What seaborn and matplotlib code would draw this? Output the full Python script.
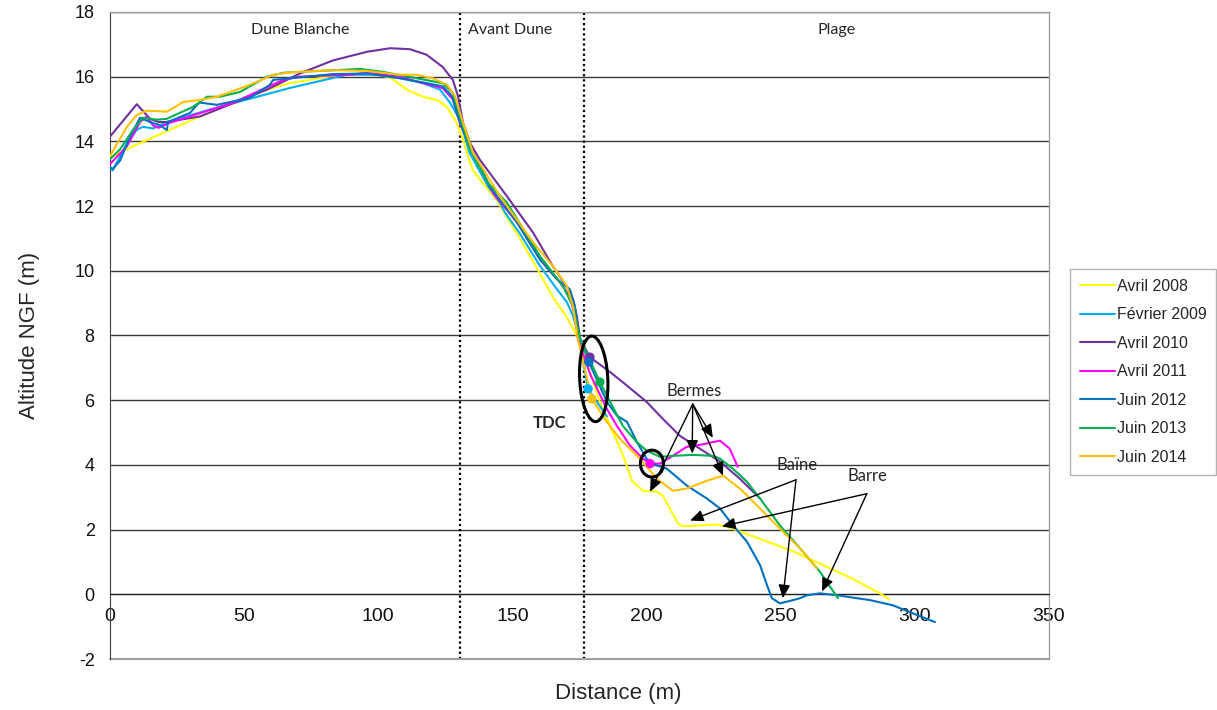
import numpy as np
import pandas as pd
import matplotlib
matplotlib.use("Agg")
import matplotlib.pyplot as plt
from matplotlib.patches import Ellipse
import seaborn as sns

# ---------------- data ----------------
campaigns = ["Avril 2008", "Février 2009", "Avril 2010", "Avril 2011",
             "Juin 2012", "Juin 2013", "Juin 2014"]
colors = ["#FFFF00", "#00B0F0", "#7030A0", "#FF00FF", "#0070C0", "#00B050", "#FFC000"]

avril2008_x = [0, 8.6, 33.5, 58.5, 67, 85.7, 98, 104.4, 110.7, 116.7, 121.8, 125.6, 129.3, 131.6,
               134.2, 135.3, 144, 152.8, 160, 165, 170, 174, 176.3, 182.6, 187.5, 191.2, 194.6,
               198.7, 203.9, 206, 208.7, 211.7, 213.6, 219.9, 226.2, 231, 254.6, 275.8, 287, 290.3]
avril2008_y = [13.5, 13.85, 14.77, 15.6, 15.8, 16.06, 16.1, 15.97, 15.6, 15.38, 15.28, 15.07, 14.57, 14.05,
               13.35, 13.1, 12.2, 11.0, 9.95, 9.2, 8.6, 8.0, 7.5, 5.95, 5.0, 4.3, 3.5,
               3.2, 3.17, 3.05, 2.65, 2.19, 2.1, 2.13, 2.16, 2.06, 1.33, 0.52, 0.03, -0.15]

fevrier2009_x = [0, 1, 6.3, 10, 12.3, 16, 21.2, 40, 67, 88.3, 103, 116.7, 123, 126.7, 130.4, 134,
                 141, 145.4, 147.2, 152.8, 160.3, 166.6, 170.3, 172.6, 174.4, 178.2, 185.2]
fevrier2009_y = [13.2, 13.1, 13.95, 14.36, 14.45, 14.4, 14.6, 15.05, 15.65, 16.06, 16.06, 15.8, 15.6, 15.2, 14.67, 13.65,
                 12.6, 12.1, 11.8, 11.15, 10.15, 9.43, 9.03, 8.6, 8.1, 6.35, 5.5]

avril2010_x = [0, 10, 14.9, 18, 21, 33.5, 58.5, 70.8, 83, 95.8, 104.4, 111.8, 118, 124, 127.8, 129.7,
               131.6, 134.2, 137.9, 148, 157.7, 165, 170.3, 172.6, 174, 175.2, 178.9, 186.4, 192.7,
               200, 206.1, 212.4, 219.9, 227.4, 234.8, 242.3]
avril2010_y = [14.15, 15.15, 14.7, 14.6, 14.6, 14.77, 15.6, 16.1, 16.5, 16.77, 16.88, 16.85, 16.68, 16.3, 15.9, 15.4,
               14.57, 13.95, 13.43, 12.3, 11.18, 10.15, 9.5, 9.12, 8.6, 7.9, 7.33, 6.87, 6.45,
               5.95, 5.42, 4.9, 4.5, 4.1, 3.57, 2.96]

avril2011_x = [0, 6.3, 11.2, 13.7, 16, 18, 22.4, 46, 64.5, 70.8, 89.5, 95.8, 108, 116.7, 124, 127.8,
               130.4, 134.2, 142.8, 151.7, 160.3, 167.7, 171.4, 173.3, 174.4, 179, 185.2, 189, 193.8,
               198.7, 201.3, 205, 209.8, 215, 219.9, 227.4, 231, 234]
avril2011_y = [13.3, 13.85, 14.6, 14.77, 14.5, 14.42, 14.58, 15.2, 15.9, 16.0, 16.06, 16.12, 16.0, 15.8, 15.65, 15.3,
               14.57, 13.85, 12.4, 11.5, 10.35, 9.64, 9.2, 8.6, 7.9, 6.8, 5.73, 5.2, 4.6,
               4.19, 4.04, 4.04, 4.28, 4.56, 4.62, 4.75, 4.5, 3.94]

juin2012_x = [0, 1, 3.7, 7.5, 11.2, 14.9, 18.6, 21.2, 21.6, 29.8, 32.4, 33.5, 39.9, 52.2, 59.6, 60.8,
              83, 95.8, 108, 118.1, 124, 127.5, 129.7, 133, 141.6, 151.7, 160.3, 166.6, 171.4, 173.3,
              174.4, 178.5, 185.2, 189, 192.7, 196.4, 200, 203.9, 207.6, 215, 222.5, 227.4, 232.2,
              237.4, 242.3, 244.9, 246.7, 249.7, 254.6, 257.2, 259.8, 264.6, 271, 283.3, 291.8, 299.3, 307.5]
juin2012_y = [13.2, 13.15, 13.4, 14.15, 14.73, 14.6, 14.5, 14.35, 14.6, 14.88, 15.13, 15.2, 15.13, 15.35, 15.75, 15.9,
              16.08, 16.1, 15.95, 15.8, 15.7, 15.4, 14.77, 14.05, 12.6, 11.5, 10.35, 9.74, 9.43, 8.9,
              8.1, 7.18, 5.95, 5.52, 5.33, 4.71, 4.19, 3.98, 3.88, 3.36, 2.96, 2.65, 2.13,
              1.63, 0.9, 0.28, -0.12, -0.28, -0.18, -0.12, -0.03, 0.03, -0.03, -0.18, -0.34, -0.59, -0.86]

juin2013_x = [0, 3.7, 8.6, 12.3, 17.5, 21.2, 31, 36.2, 41, 48.5, 58.5, 64.5, 70.8, 93.2, 101.7, 114.4,
              124, 127.8, 130.4, 134.5, 141, 148, 160.3, 168.8, 172.6, 175.2, 182.6, 186.4, 191.2,
              196.4, 200, 205, 209.8, 217.3, 224.7, 227.4, 232.2, 237.4, 242.3, 249.7, 257.2, 264.6, 271.3]
juin2013_y = [13.45, 13.75, 14.36, 14.73, 14.67, 14.7, 15.07, 15.38, 15.38, 15.53, 16.0, 16.12, 16.15, 16.24, 16.15, 15.95,
              15.8, 15.5, 14.77, 13.7, 12.7, 12.1, 10.45, 9.53, 8.9, 7.9, 6.56, 5.95, 5.2,
              4.7, 4.44, 4.25, 4.28, 4.31, 4.28, 4.19, 3.88, 3.48, 2.96, 2.13, 1.42, 0.7, -0.12]

juin2014_x = [0, 6.3, 10, 13.7, 21.2, 23.6, 27.3, 33.5, 39.9, 52.2, 60.8, 65.9, 70.8, 83, 95.8, 108,
              114.4, 120.4, 125.6, 128.6, 131.2, 135.3, 145.4, 157.7, 165, 170.3, 172.6, 174.4, 179.6,
              185.2, 190, 197.5, 203.9, 209.8, 215, 222.5, 228.5, 230, 234.8, 242.3, 249.7, 257.2, 263.5]
juin2014_y = [13.55, 14.45, 14.82, 14.95, 14.92, 15.03, 15.22, 15.28, 15.38, 15.75, 16.06, 16.12, 16.15, 16.2, 16.18, 16.06,
              16.06, 15.95, 15.75, 15.4, 14.67, 13.65, 12.3, 10.88, 10.15, 9.53, 8.9, 7.9, 6.04,
              5.33, 4.81, 4.19, 3.57, 3.2, 3.27, 3.51, 3.67, 3.57, 3.27, 2.65, 2.03, 1.42, 0.8]

# TDC points
tdc_x = [178.9, 178.5, 182.6, 178.2, 179.6, 201.3]
tdc_y = [7.33, 7.18, 6.56, 6.35, 6.04, 4.04]
tdc_colors = ["#7030A0", "#0070C0", "#00B050", "#00B0F0", "#FFC000", "#FF00FF"]

zone_limits = [130.3, 176.8]
zone_names = ["Dune Blanche", "Avant Dune", "Plage"]
zone_centers = [70.8, 149, 271]

y_ticks = list(range(-2, 19, 2))
x_ticks = list(range(0, 351, 50))

# ---------------- build dataframe ----------------
series = [(avril2008_x, avril2008_y), (fevrier2009_x, fevrier2009_y), (avril2010_x, avril2010_y),
          (avril2011_x, avril2011_y), (juin2012_x, juin2012_y), (juin2013_x, juin2013_y),
          (juin2014_x, juin2014_y)]
frames = []
for name, (xs, ys) in zip(campaigns, series):
    frames.append(pd.DataFrame({"Distance": xs, "Altitude": ys, "Campagne": name}))
df = pd.concat(frames, ignore_index=True)
tdc = pd.DataFrame({"Distance": tdc_x, "Altitude": tdc_y, "c": tdc_colors})

# ---------------- plot ----------------
sns.set_style("white")
plt.rcParams["font.family"] = ["Liberation Sans", "DejaVu Sans"]
ann_font = ["Lato", "DejaVu Sans"]

fig = plt.figure(figsize=(12.17, 7.10), dpi=100)
ax = fig.add_axes([110 / 1217, 1 - 659 / 710, (1049 - 110) / 1217, (659 - 12) / 710])

for yv in y_ticks[1:]:
    ax.axhline(yv, color="#3a3a3a", lw=1.0, zorder=0)

for xv in zone_limits:
    ax.axvline(xv, color="black", lw=1.6, ls=(0, (1, 1.3)), zorder=1)

palette = dict(zip(campaigns, colors))
sns.lineplot(data=df, x="Distance", y="Altitude", hue="Campagne", palette=palette,
             hue_order=campaigns, sort=False, estimator=None, lw=1.5, ax=ax, zorder=3)

sns.scatterplot(data=tdc, x="Distance", y="Altitude", hue="c", palette={c: c for c in tdc_colors},
                s=45, edgecolor="none", legend=False, ax=ax, zorder=4)

ax.set_xlim(0, 350)
ax.set_ylim(-2, 18)
ax.set_xticks(x_ticks)
ax.set_yticks(y_ticks)
ax.set_xticklabels([str(v) for v in x_ticks])
ax.set_yticklabels([str(v) for v in y_ticks])

for s in ["top", "right"]:
    ax.spines[s].set_color("#a0a0a0")
    ax.spines[s].set_linewidth(1.0)
ax.spines["left"].set_color("#404040")
ax.spines["bottom"].set_position(("data", 0))
ax.spines["bottom"].set_color("#202020")
ax.axhline(-2, color="#a0a0a0", lw=1.5, clip_on=False, zorder=2)
ax.tick_params(axis="x", direction="out", length=5, width=1, color="#404040", pad=5,
               labelsize=14, labelcolor="#111111")
ax.tick_params(axis="y", direction="out", length=5, width=1, color="#404040", pad=6,
               labelsize=13, labelcolor="#111111")

ax.set_xlabel("")
ax.set_ylabel("")
fig.text(618 / 1217, 1 - 693 / 710, "Distance (m)", fontsize=16, ha="center", va="center")
fig.text(30 / 1217, 1 - 335 / 710, "Altitude NGF (m)", fontsize=16, ha="center", va="center",
         rotation=90)

for name, xc in zip(zone_names, zone_centers):
    ax.text(xc, 17.45, name, fontsize=11.5, ha="center", va="center", family=ann_font)

ax.add_patch(Ellipse((180.3, 6.66), 10.6, 2.62, angle=-2, fill=False, ec="black", lw=2.2, zorder=5))
ax.add_patch(Ellipse((202.0, 4.04), 8.6, 0.83, fill=False, ec="black", lw=2.2, zorder=5))
ax.text(163.8, 5.3, "TDC", fontsize=12, fontweight="bold", ha="center", va="center", family=ann_font)

arrow_kw = dict(arrowstyle="-|>,head_length=0.8,head_width=0.35", color="black", lw=1.0,
                shrinkA=0, shrinkB=0)
ax.text(217.7, 6.29, "Bermes", fontsize=12, ha="center", va="center", family=ann_font)
for tx, ty in [(201.3, 3.17), (217.0, 4.35), (224.7, 4.84), (228.5, 3.67)]:
    ax.annotate("", xy=(tx, ty), xytext=(217.2, 5.88), arrowprops=arrow_kw, zorder=6)

ax.text(256.0, 4.0, "Baïne", fontsize=12, ha="center", va="center", family=ann_font)
for tx, ty in [(216.2, 2.28), (250.8, -0.12)]:
    ax.annotate("", xy=(tx, ty), xytext=(255.7, 3.54), arrowprops=arrow_kw, zorder=6)

ax.text(282.5, 3.67, "Barre", fontsize=12, ha="center", va="center", family=ann_font)
for tx, ty in [(228.1, 2.1), (265.4, 0.09)]:
    ax.annotate("", xy=(tx, ty), xytext=(282.1, 3.11), arrowprops=arrow_kw, zorder=6)

handles, labels = ax.get_legend_handles_labels()
if ax.get_legend() is not None:
    ax.get_legend().remove()
leg = fig.legend(handles, labels, loc="upper left", bbox_to_anchor=(1070 / 1217, 1 - 269 / 710),
                 frameon=True, fancybox=False, edgecolor="#a0a0a0", fontsize=11.5,
                 handlelength=2.2, handletextpad=0.15, labelspacing=0.85, borderpad=0.6,
                 borderaxespad=0)
leg.get_frame().set_linewidth(1.0)
for ln in leg.get_lines():
    ln.set_linewidth(1.5)

fig.savefig("out.png", dpi=100)
